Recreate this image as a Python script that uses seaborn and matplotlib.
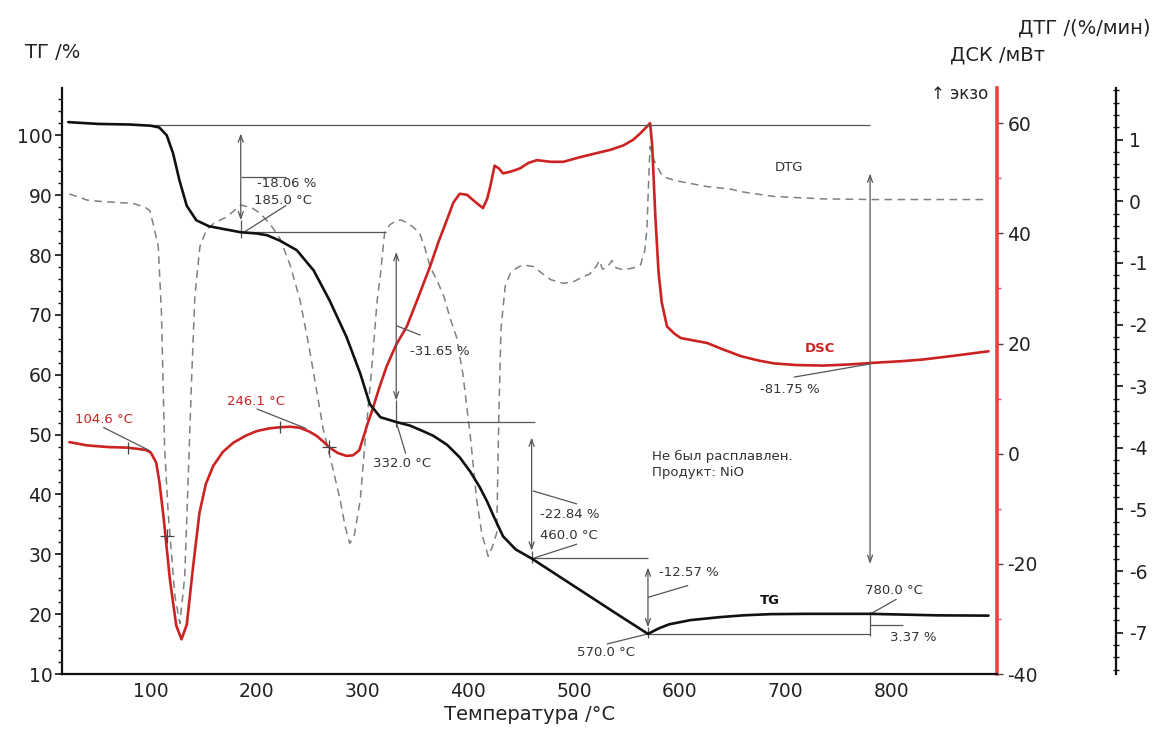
import matplotlib
matplotlib.use("Agg")
import matplotlib.pyplot as plt
import seaborn as sns
import pandas as pd
from matplotlib.ticker import MultipleLocator

# ---------------- data ----------------
temp_tg = [22, 50, 80, 100, 108, 115, 121, 127, 134, 143, 155, 170, 185, 200, 210, 222,
           238, 254, 269, 285, 298, 307, 317, 332, 345, 357, 367, 380, 392, 402, 411, 418,
           424, 433, 445, 460, 480, 500, 520, 540, 555, 570, 580, 590, 610, 638, 660, 686,
           720, 780, 843, 892]
tg = [102.2, 101.9, 101.8, 101.6, 101.3, 100.0, 97.0, 92.5, 88.2, 85.8, 84.8, 84.3, 83.8,
      83.6, 83.3, 82.4, 80.8, 77.4, 72.4, 66.3, 60.2, 55.1, 52.9, 52.1, 51.5, 50.6, 49.8,
      48.3, 46.2, 43.8, 41.2, 38.8, 36.4, 33.0, 30.8, 29.3, 27.0, 24.7, 22.4, 20.1, 18.4,
      16.7, 17.6, 18.3, 19.0, 19.5, 19.8, 20.0, 20.05, 20.05, 19.8, 19.75]

temp_dsc = [23, 40, 60, 78, 95, 100, 105, 108, 112, 118, 124, 129, 134, 140, 146, 152, 159,
            168, 178, 190, 200, 212, 222, 232, 241, 250, 257, 263, 269, 277, 285, 291, 297,
            301, 305, 309, 316, 323, 332, 342, 351, 358, 364, 372, 380, 386, 392, 399, 405,
            410, 414, 418, 421, 425, 429, 433, 440, 449, 457, 465, 478, 490, 505, 522, 535,
            547, 556, 563, 568, 572, 574, 577, 580, 583, 588, 595, 601, 626, 640, 658, 675,
            689, 710, 736, 760, 783, 810, 830, 860, 892]
dsc = [2.1, 1.5, 1.2, 1.1, 0.7, 0.2, -1.6, -5.0, -11.5, -22.8, -31.2, -33.7, -31.0, -20.4,
       -10.7, -5.5, -2.2, 0.3, 2.0, 3.3, 4.1, 4.6, 4.8, 4.9, 4.7, 4.0, 3.2, 2.2, 1.1, 0.1,
       -0.4, -0.3, 0.6, 3.0, 5.5, 7.7, 12.0, 15.9, 19.8, 23.1, 27.5, 31.0, 34.0, 38.5, 42.5,
       45.6, 47.2, 47.0, 46.0, 45.2, 44.6, 46.3, 48.6, 52.3, 51.8, 50.9, 51.2, 51.8, 52.8,
       53.3, 53.0, 53.0, 53.8, 54.6, 55.2, 56.0, 57.0, 58.2, 59.2, 60.0, 56.0, 43.0, 33.0,
       27.5, 23.1, 21.8, 21.0, 20.1, 19.0, 17.7, 16.9, 16.4, 16.1, 16.0, 16.2, 16.5, 16.8,
       17.1, 17.8, 18.6]

temp_dtg = [23, 40, 52, 70, 83, 95, 99, 102, 107, 110, 113, 116.4, 122.7, 127.4, 132,
            135.3, 138.5, 141.6, 146.4, 152.7, 160, 172, 185, 195, 203, 212, 222, 232, 241,
            250, 256, 263, 273, 279, 284, 288, 292, 296, 298, 303, 309, 314, 317, 321, 326,
            331, 336, 343, 348, 354, 359, 364, 371, 377, 383, 389, 395, 402, 408, 413, 419,
            423, 427, 429, 431, 435, 440, 446, 452, 462, 470, 478, 490, 500, 509, 515, 518,
            521, 524, 527, 531, 536, 540, 547, 556, 563, 567, 569, 571, 572, 574, 577, 584,
            594, 601, 626, 648, 657, 689, 736, 783, 830, 890]
dtg = [0.12, 0.02, 0.0, -0.02, -0.03, -0.1, -0.15, -0.35, -0.73, -1.8, -4.0, -5.06, -6.4,
       -6.85, -6.1, -4.5, -2.9, -1.54, -0.73, -0.46, -0.35, -0.25, -0.06, -0.1, -0.19,
       -0.35, -0.6, -1.05, -1.6, -2.4, -3.0, -3.7, -4.4, -4.85, -5.3, -5.55, -5.45, -5.05,
       -4.84, -3.8, -2.68, -1.6, -1.2, -0.51, -0.38, -0.32, -0.30, -0.35, -0.42, -0.51,
       -0.75, -1.06, -1.3, -1.54, -1.9, -2.2, -2.8, -3.8, -4.84, -5.4, -5.76, -5.6, -5.38,
       -3.5, -2.08, -1.38, -1.16, -1.08, -1.03, -1.06, -1.17, -1.27, -1.33, -1.3, -1.22,
       -1.18, -1.1, -1.06, -0.96, -1.1, -1.08, -0.96, -1.08, -1.11, -1.08, -1.03, -0.8,
       -0.46, 0.5, 0.89, 0.75, 0.62, 0.40, 0.35, 0.32, 0.24, 0.20, 0.16, 0.08, 0.04, 0.03,
       0.03, 0.03]

x_ticks = [100, 200, 300, 400, 500, 600, 700, 800]
tg_ticks = [10, 20, 30, 40, 50, 60, 70, 80, 90, 100]
dsc_ticks = [-40, -20, 0, 20, 40, 60]
dtg_ticks = [-7, -6, -5, -4, -3, -2, -1, 0, 1]

df_tg = pd.DataFrame({"T": temp_tg, "TG": tg})
df_dsc = pd.DataFrame({"T": temp_dsc, "DSC": dsc})
df_dtg = pd.DataFrame({"T": temp_dtg, "DTG": dtg})

# ---------------- style ----------------
sns.set_style("white")
plt.rcParams["font.family"] = ["DejaVu Sans"]
plt.rcParams["axes.unicode_minus"] = False

W, H = 1153, 729
fig = plt.figure(figsize=(W / 100, H / 100), dpi=100, facecolor="white")
L, R, T, B = 62, 997, 88, 674
ax = fig.add_axes([L / W, 1 - B / H, (R - L) / W, (B - T) / H])
ax_dsc = ax.twinx()
ax_dtg = ax.twinx()

ax_dtg.set_zorder(1)
ax_dsc.set_zorder(2)
ax.set_zorder(3)
for a in (ax, ax_dsc, ax_dtg):
    a.patch.set_visible(False)

RED = "#cc2222"
ANN = "#555555"
TXT = "#333333"

# curves
sns.lineplot(data=df_dtg, x="T", y="DTG", ax=ax_dtg, color="#808080", linewidth=1.1,
             linestyle=(0, (5, 3.5)))
sns.lineplot(data=df_dsc, x="T", y="DSC", ax=ax_dsc, color=RED, linewidth=1.9)
sns.lineplot(data=df_tg, x="T", y="TG", ax=ax, color="#111111", linewidth=1.9)

# limits
ax.set_xlim(16, 900)
ax.set_ylim(10, 107.9)
ax_dsc.set_ylim(-40, 66.4)
ax_dtg.set_ylim(-7.67, 1.84)

for a in (ax, ax_dsc, ax_dtg):
    a.set_xlabel("")
    a.set_ylabel("")

# spines
for s in ("top", "right"):
    ax.spines[s].set_visible(False)
ax.spines["left"].set_color("#111111")
ax.spines["left"].set_linewidth(1.6)
ax.spines["bottom"].set_color("#111111")
ax.spines["bottom"].set_linewidth(1.6)

for s in ("top", "left", "bottom"):
    ax_dsc.spines[s].set_visible(False)
    ax_dtg.spines[s].set_visible(False)
ax_dsc.spines["right"].set_color("#e04848")
ax_dsc.spines["right"].set_linewidth(2.6)
ax_dtg.spines["right"].set_position(("outward", 86))
ax_dtg.spines["right"].set_color("#111111")
ax_dtg.spines["right"].set_linewidth(1.6)

# ticks
ax.set_xticks(x_ticks)
ax.xaxis.set_minor_locator(MultipleLocator(20))
ax.set_yticks(tg_ticks)
ax.yaxis.set_minor_locator(MultipleLocator(2))
ax.tick_params(axis="x", which="major", direction="in", length=5, width=1.2,
               labelsize=13.5, pad=6, colors="#111111", labelcolor="#222222")
ax.tick_params(axis="x", which="minor", direction="in", length=3, width=1.0, colors="#111111")
ax.tick_params(axis="y", which="major", direction="out", length=5, width=1.2,
               labelsize=13.5, pad=2, colors="#111111", labelcolor="#222222")
ax.tick_params(axis="y", which="minor", direction="out", length=3, width=1.0, colors="#111111")

ax_dsc.set_yticks(dsc_ticks)
ax_dsc.yaxis.set_minor_locator(MultipleLocator(10))
ax_dsc.tick_params(axis="y", which="major", direction="out", length=4.5, width=1.0,
                   labelsize=13.5, pad=3, colors="#444444", labelcolor="#222222")
ax_dsc.tick_params(axis="y", which="minor", direction="out", length=3, width=1.0,
                   colors="#cc5555")

ax_dtg.set_yticks(dtg_ticks)
ax_dtg.yaxis.set_minor_locator(MultipleLocator(0.2))
ax_dtg.tick_params(axis="y", which="major", direction="out", length=5, width=1.2,
                   labelsize=13.5, pad=4, colors="#111111", labelcolor="#222222")
ax_dtg.tick_params(axis="y", which="minor", direction="inout", length=4, width=1.0,
                   colors="#111111")

# ---------------- annotations (in TG data coordinates) ----------------
def seg(x0, y0, x1, y1, color=ANN, lw=0.9):
    ax.plot([x0, x1], [y0, y1], color=color, lw=lw, solid_capstyle="butt", zorder=1)

def darrow(x, y0, y1):
    ax.annotate("", xy=(x, y1), xytext=(x, y0),
                arrowprops=dict(arrowstyle="<->,head_length=0.5,head_width=0.18",
                                color=ANN, lw=0.9, shrinkA=0, shrinkB=0), zorder=1)

def label(x, y, s, color=TXT, **kw):
    ax.text(x, y, s, color=color, fontsize=9.5, ha="left", va="center", zorder=5, **kw)

# horizontal step lines
seg(100, 101.8, 780, 101.8)
seg(185, 83.8, 322, 83.8)
seg(332, 52.1, 463, 52.1)
seg(460, 29.3, 570, 29.3)
seg(570, 16.6, 780, 16.6)

# vertical measurement arrows
darrow(185, 85.8, 100.3)
seg(185, 85.8, 185, 82.8)
darrow(332, 55.7, 80.5)
seg(332, 55.7, 332, 51.2)
darrow(460, 30.6, 49.5)
seg(460, 30.6, 460, 28.5)
darrow(570, 17.8, 27.8)
seg(570, 17.8, 570, 16.0)
darrow(780, 28.4, 93.6)
seg(780, 16.4, 780, 20.3)

# leader lines and labels
seg(185, 93.0, 228, 93.0)
label(200, 91.9, "-18.06 %")
seg(228, 88.3, 188, 83.8)
label(198, 89.1, "185.0 °C")

seg(332, 68.2, 355, 66.6)
label(345, 63.8, "-31.65 %")
seg(332, 52.1, 341, 46.8)
label(310, 45.1, "332.0 °C")

seg(461, 40.6, 503, 38.4)
label(468, 36.7, "-22.84 %")
seg(461, 29.3, 503, 31.7)
label(468, 33.1, "460.0 °C")

seg(570, 22.8, 608, 24.8)
label(580, 27.0, "-12.57 %")
seg(570, 16.7, 531, 15.0)
label(503, 13.6, "570.0 °C")

seg(780, 20.0, 805, 22.5)
label(775, 23.9, "780.0 °C")
seg(780, 18.2, 811, 18.2)
label(799, 16.1, "3.37 %")

seg(708, 59.6, 780, 61.8)
label(676, 57.6, "-81.75 %")

seg(55, 51.2, 99, 47.3)
label(28, 52.6, "104.6 °C", color=RED)
seg(200, 54.3, 247, 51.0)
label(171.6, 55.6, "246.1 °C", color=RED)

# onset markers on DSC curve
ax_dsc.plot([78.5, 222], [1.1, 4.8], linestyle="none", marker="|", markersize=9,
            color="#444444", markeredgewidth=0.9)
ax_dsc.plot([115, 268], [-14.9, 1.3], linestyle="none", marker="+", markersize=10,
            color="#444444", markeredgewidth=0.9)

# curve names and notes
ax.text(703.6, 94.7, "DTG", color=TXT, fontsize=9.5, ha="center", va="center", zorder=5)
ax.text(733, 64.4, "DSC", color=RED, fontsize=9.5, fontweight="bold", ha="center",
        va="center", zorder=5)
ax.text(685.5, 22.2, "TG", color="#111111", fontsize=9.5, fontweight="bold",
        ha="center", va="center", zorder=5)
ax.text(573.7, 45.0, "Не был расплавлен.\nПродукт: NiO", color=TXT, fontsize=9.5,
        ha="left", va="center", linespacing=1.35, zorder=5)

# axis titles (figure coordinates)
fig.text(25 / W, 1 - 52 / H, "ТГ /%", fontsize=14, color="#222222", ha="left", va="center")
fig.text(1150 / W, 1 - 28 / H, "ДТГ /(%/мин)", fontsize=14, color="#222222",
         ha="right", va="center")
fig.text(1045 / W, 1 - 55 / H, "ДСК /мВт", fontsize=14, color="#222222",
         ha="right", va="center")
fig.text(988 / W, 1 - 94 / H, "↑ экзо", fontsize=12, color="#222222",
         ha="right", va="center")
fig.text(530 / W, 1 - 715 / H, "Температура /°C", fontsize=14, color="#222222",
         ha="center", va="center")

fig.savefig("out.png", dpi=100, facecolor="white")
